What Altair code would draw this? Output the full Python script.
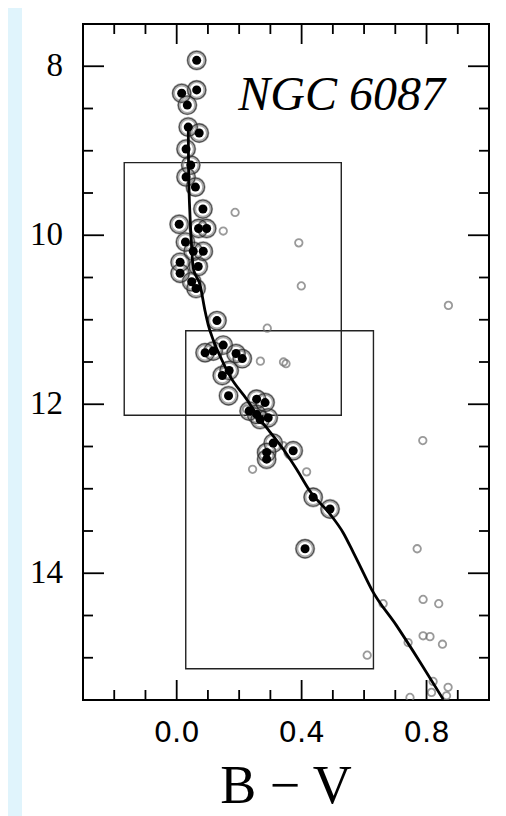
import altair as alt
import pandas as pd

# ---- data ----
member_bv = [0.064, 0.016, 0.064, 0.034, 0.037, 0.072, 0.030, 0.045, 0.030, 0.060,
             0.084, 0.008, 0.070, 0.096, 0.028, 0.053, 0.085, 0.011, 0.069, 0.011,
             0.048, 0.062, 0.129, 0.091, 0.117, 0.149, 0.190, 0.210, 0.168, 0.146,
             0.166, 0.256, 0.283, 0.232, 0.256, 0.267, 0.293, 0.309, 0.288, 0.288,
             0.373, 0.437, 0.491, 0.411]
member_v = [7.93, 8.32, 8.28, 8.46, 8.72, 8.79, 8.98, 9.17, 9.31, 9.43,
            9.69, 9.87, 9.92, 9.92, 10.08, 10.19, 10.19, 10.32, 10.37, 10.45,
            10.55, 10.63, 11.01, 11.39, 11.37, 11.30, 11.40, 11.46, 11.60, 11.66,
            11.90, 11.94, 11.98, 12.08, 12.12, 12.18, 12.16, 12.46, 12.57, 12.65,
            12.55, 13.10, 13.24, 13.71]

field_bv = [0.187, 0.149, 0.391, 0.399, 0.870, 0.290, 0.268, 0.342, 0.350, 0.224,
            0.788, 0.341, 0.243, 0.416, 0.770, 0.661, 0.789, 0.839, 0.741, 0.789,
            0.811, 0.851, 0.610, 0.821, 0.869, 0.816, 0.747, 0.864]
field_v = [9.73, 9.95, 10.09, 10.60, 10.83, 11.10, 11.49, 11.50, 11.52, 12.06,
           12.43, 12.49, 12.77, 12.80, 13.71, 14.36, 14.31, 14.36, 14.82, 14.74,
           14.75, 14.84, 14.97, 15.28, 15.35, 15.41, 15.47, 15.45]

iso_bv = [0.037, 0.038, 0.043, 0.048, 0.053, 0.075, 0.091, 0.101, 0.117, 0.144,
          0.171, 0.224, 0.267, 0.293, 0.341, 0.384, 0.427, 0.491, 0.533, 0.565,
          0.597, 0.624, 0.704, 0.779, 0.853]
iso_v = [8.70, 9.20, 9.80, 10.15, 10.39, 10.59, 10.90, 11.06, 11.24, 11.47,
         11.67, 11.94, 12.18, 12.30, 12.53, 12.77, 13.03, 13.30, 13.52, 13.75,
         13.99, 14.19, 14.62, 15.05, 15.49]

box_bv1 = [-0.168, 0.029]
box_bv2 = [0.527, 0.630]
box_v1 = [9.14, 11.13]
box_v2 = [12.13, 15.13]

x_major = [0.0, 0.4, 0.8]
x_minor = [-0.2, -0.1, 0.1, 0.2, 0.3, 0.5, 0.6, 0.7, 0.9]
y_major = [8, 10, 12, 14]
y_minor = [8.5, 9, 9.5, 10.5, 11, 11.5, 12.5, 13, 13.5, 14.5, 15]

cluster_name = ["NGC  6087"]
x_title = ["B − V"]

# ---- tables ----
members = pd.DataFrame({"bv": member_bv, "v": member_v})
field = pd.DataFrame({"bv": field_bv, "v": field_v})
iso = pd.DataFrame({"bv": iso_bv, "v": iso_v})
boxes = pd.DataFrame({"x1": box_bv1, "x2": box_bv2, "y1": box_v1, "y2": box_v2})

W, H = 406, 676
xs = alt.Scale(domain=[-0.3, 1.0], nice=False, zero=False)
ys = alt.Scale(domain=[7.5, 15.5], nice=False, zero=False, reverse=True)


def X(f):
    return alt.X(f, scale=xs, axis=None)


def Y(f):
    return alt.Y(f, scale=ys, axis=None)


# light-blue strip at the left edge of the page
strip = alt.Chart(pd.DataFrame({"a": [0]})).mark_rect(color="#e0f4fc").encode(
    x=alt.value(-80), x2=alt.value(-61), y=alt.value(-30), y2=alt.value(830)
)

rects = alt.Chart(boxes).mark_rect(fill=None, stroke="#222", strokeWidth=1.4).encode(
    x=X("x1:Q"), x2="x2:Q", y=Y("y1:Q"), y2="y2:Q"
)

field_pts = alt.Chart(field).mark_point(
    shape="circle", filled=False, size=56, stroke="#707070", strokeWidth=1.8, clip=True
).encode(x=X("bv:Q"), y=Y("v:Q"))

mem_halo = alt.Chart(members).mark_point(
    shape="circle", filled=False, size=290, stroke="#8a8a8a", strokeWidth=3.4
).encode(x=X("bv:Q"), y=Y("v:Q"))

mem_ring = alt.Chart(members).mark_point(
    shape="circle", filled=False, size=330, stroke="#222", strokeWidth=1.1
).encode(x=X("bv:Q"), y=Y("v:Q"))

mem_dot = alt.Chart(members).mark_point(
    shape="circle", filled=True, size=81, color="black", opacity=1
).encode(x=X("bv:Q"), y=Y("v:Q"))

line = alt.Chart(iso).mark_line(color="black", strokeWidth=2.8, interpolate="monotone").encode(
    x=X("bv:Q"), y=Y("v:Q"), order="v:Q"
)


def hticks(vals, length):
    d = pd.DataFrame({"t": vals})
    bottom = alt.Chart(d).mark_rule(color="black", strokeWidth=1.8).encode(
        x=X("t:Q"), y=alt.value(H), y2=alt.value(H - length))
    top = alt.Chart(d).mark_rule(color="black", strokeWidth=1.8).encode(
        x=X("t:Q"), y=alt.value(0), y2=alt.value(length))
    return [bottom, top]


def vticks(vals, length):
    d = pd.DataFrame({"t": vals})
    left = alt.Chart(d).mark_rule(color="black", strokeWidth=1.8).encode(
        y=Y("t:Q"), x=alt.value(0), x2=alt.value(length))
    right = alt.Chart(d).mark_rule(color="black", strokeWidth=1.8).encode(
        y=Y("t:Q"), x=alt.value(W), x2=alt.value(W - length))
    return [left, right]


# tick labels
xlabels = alt.Chart(pd.DataFrame({"t": x_major})).mark_text(
    font="DejaVu Sans", fontSize=29, baseline="top", align="center", color="black"
).encode(x=X("t:Q"), y=alt.value(H + 19), text=alt.Text("t:Q", format=".1f"))

ylabels = alt.Chart(pd.DataFrame({"t": y_major})).mark_text(
    font="Liberation Serif", fontSize=33, baseline="middle", align="right", color="black"
).encode(y=Y("t:Q"), x=alt.value(-20), text=alt.Text("t:Q", format="d"))

xtitle = alt.Chart(pd.DataFrame({"name": x_title})).mark_text(
    font="Liberation Serif", fontSize=54, baseline="alphabetic", align="center", color="black"
).encode(text="name:N", x=alt.value(W / 2), y=alt.value(H + 103))

label = alt.Chart(pd.DataFrame({"name": cluster_name})).mark_text(
    font="Liberation Serif", fontStyle="italic", fontSize=48, align="right",
    baseline="alphabetic", color="black"
).encode(text="name:N", x=alt.value(362), y=alt.value(86))

layers = [strip, rects, field_pts, mem_halo, mem_ring, mem_dot, line, label,
          xlabels, ylabels, xtitle]
layers += hticks(x_major, 20) + hticks(x_minor, 10) + vticks(y_major, 21) + vticks(y_minor, 10)

chart = alt.layer(*layers).properties(
    width=W, height=H,
    padding={"left": 75, "top": 16, "right": 9, "bottom": 118},
    autosize=alt.AutoSizeParams(type="none"),
    background="white",
).configure_view(stroke="black", strokeWidth=2)

chart.save("out.html", embed_options={"renderer": "svg", "actions": False})
